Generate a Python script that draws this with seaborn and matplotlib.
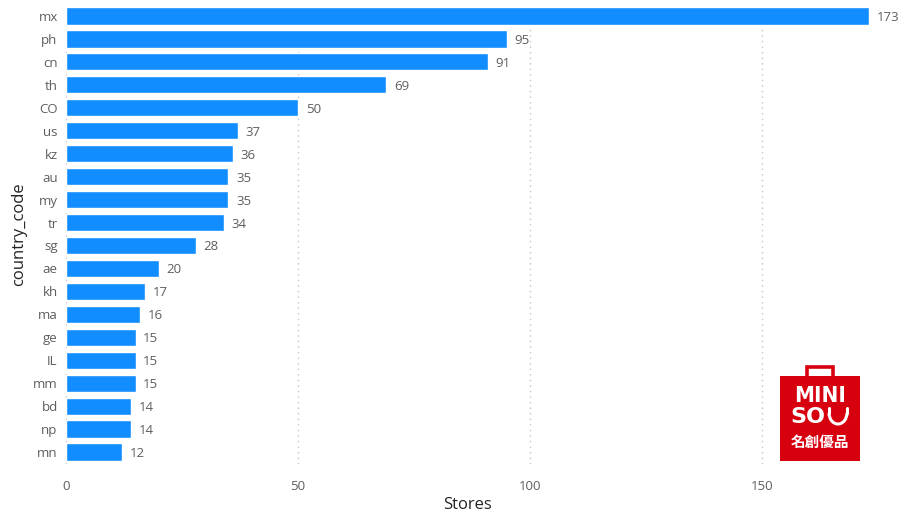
import matplotlib
matplotlib.use('Agg')
import matplotlib.pyplot as plt
from matplotlib.patches import Rectangle, Arc
import seaborn as sns

countries = ["mx", "ph", "cn", "th", "CO", "us", "kz", "au", "my", "tr",
             "sg", "ae", "kh", "ma", "ge", "IL", "mm", "bd", "np", "mn"]
stores = [173, 95, 91, 69, 50, 37, 36, 35, 35, 34,
          28, 20, 17, 16, 15, 15, 15, 14, 14, 12]
xticks = [0, 50, 100, 150]

BAR = "#118DFF"
GREY = "#605E5C"
DARK = "#252423"

sns.set_style("white")
plt.rcParams['font.family'] = ['Open Sans', 'DejaVu Sans']

fig = plt.figure(figsize=(9.07, 5.2), dpi=100)
ax = fig.add_axes([66 / 907, 1 - 463.5 / 520, (868.7 - 66) / 907, (463.5 - 4.5) / 520])

sns.barplot(x=stores, y=countries, orient='h', color=BAR, saturation=1,
            width=0.75, ax=ax, zorder=3)
ax.set_xlim(0, 173)
ax.set_ylim(len(countries) - 0.5, -0.5)
ax.set_xticks(xticks)
ax.grid(axis='x', linestyle=(0, (1, 3)), color='#C8C6C4', linewidth=1, zorder=0)
for s in ax.spines.values():
    s.set_visible(False)
ax.tick_params(axis='both', length=0, colors=GREY, labelsize=9.5)
ax.tick_params(axis='x', pad=12)
ax.tick_params(axis='y', pad=6)
ax.set_xlabel("Stores", fontsize=12, color=DARK, labelpad=3)
ax.set_ylabel("country_code", fontsize=12, color=DARK, labelpad=4)

for i, v in enumerate(stores):
    ax.annotate(str(v), xy=(v, i), xytext=(5.5, 0), textcoords='offset points',
                va='center_baseline', ha='left', fontsize=9.5, color=GREY,
                annotation_clip=False)

# MINISO logo, drawn in pixel coordinates
lax = fig.add_axes([770 / 907, 1 - 470 / 520, 100 / 907, 110 / 520])
lax.set_xlim(770, 870)
lax.set_ylim(470, 360)
lax.axis('off')
RED = "#D7000F"
lax.add_patch(Rectangle((780, 376), 80, 85, color=RED, lw=0))
lax.plot([807, 807, 833, 833], [377, 366.5, 366.5, 377], color=RED, lw=2.6,
         solid_joinstyle='miter')
lax.text(820, 396, "MINI", color='white', fontsize=16, fontweight='bold',
         ha='center', va='center', family='DejaVu Sans', stretch='condensed')
lax.text(808, 417, "SO", color='white', fontsize=16, fontweight='bold',
         ha='center', va='center', family='DejaVu Sans')
lax.add_patch(Arc((838, 413), 18, 22, theta1=0, theta2=180, color='white', lw=2.2))
lax.plot([829, 829], [408, 413], color='white', lw=2.2)
lax.plot([847, 847], [408, 413], color='white', lw=2.2)
lax.text(820, 442, "名創優品", color='white', fontsize=10.5, fontweight='bold',
         ha='center', va='center', family=['Noto Sans CJK TC', 'DejaVu Sans'])

fig.savefig("out.png", dpi=100)
